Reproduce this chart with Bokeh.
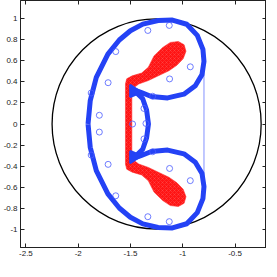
from bokeh.plotting import figure
from bokeh.models import Range1d, FixedTicker, LinearAxis
from bokeh.embed import file_html
from bokeh.resources import INLINE

# ---- data ----
circle_cx = [-1.25]
circle_cy = [0.0]
circle_d = [2.0]

blue_x = [-1.906, -1.885, -1.827, -1.716, -1.607, -1.501, -1.382, -1.236, -1.099, -0.962,
          -0.861, -0.807, -0.797, -0.816, -0.880, -0.989, -1.145, -1.300, -1.401, -1.474,
          -1.383, -1.346, -1.328, -1.346, -1.383, -1.474, -1.401, -1.300, -1.145, -0.989,
          -0.880, -0.816, -0.797, -0.807, -0.861, -0.962, -1.099, -1.236, -1.382, -1.501,
          -1.607, -1.716, -1.827, -1.885, -1.906]
blue_y = [0.0, 0.222, 0.444, 0.665, 0.799, 0.887, 0.950, 0.985, 0.989, 0.949,
          0.843, 0.710, 0.595, 0.470, 0.364, 0.284, 0.248, 0.262, 0.302, 0.328,
          0.240, 0.133, 0.0, -0.133, -0.240, -0.328, -0.302, -0.262, -0.248, -0.284,
          -0.364, -0.470, -0.595, -0.710, -0.843, -0.949, -0.989, -0.985, -0.950, -0.887,
          -0.799, -0.665, -0.444, -0.222, 0.0]

blob_xs = [[-1.503, -1.503, -1.394], [-1.503, -1.503, -1.394]]
blob_ys = [[0.373, 0.257, 0.302], [-0.373, -0.257, -0.302]]

sparse_x = [-1.641, -1.714, -1.798, -1.798, -1.714, -1.641, -1.334, -1.129, -0.928, -1.126,
            -1.371, -1.352, -1.480, -1.371, -1.126, -0.928, -1.334, -1.129, -1.876, -1.876,
            -1.288, -1.288]
sparse_y = [0.689, 0.393, 0.083, -0.077, -0.384, -0.683, 0.890, 0.938, 0.544, 0.429,
            0.148, 0.005, 0.0, -0.142, -0.423, -0.539, -0.882, -0.929, 0.295, -0.295,
            0.264, -0.264]

red_x = [-1.548, -1.536, -1.484, -1.393, -1.329, -1.275, -1.192, -1.119, -1.042, -0.987,
         -0.969, -0.996, -1.056, -1.133, -1.238, -1.329, -1.421, -1.475, -1.487,
         -1.487, -1.475, -1.421, -1.329, -1.238, -1.133, -1.056, -0.996, -0.969, -0.987,
         -1.042, -1.119, -1.192, -1.275, -1.329, -1.393, -1.484, -1.536, -1.548]
red_y = [0.382, 0.430, 0.458, 0.485, 0.541, 0.648, 0.728, 0.776, 0.785, 0.754,
         0.692, 0.621, 0.559, 0.506, 0.457, 0.413, 0.381, 0.340, 0.284,
         -0.284, -0.340, -0.381, -0.413, -0.457, -0.506, -0.559, -0.621, -0.692, -0.754,
         -0.785, -0.776, -0.728, -0.648, -0.541, -0.485, -0.458, -0.430, -0.382]

vline_x = [-0.797, -0.797]
vline_y = [0.595, -0.595]

x_ticks = [-2.5, -2, -1.5, -1, -0.5]
x_labels = ["-2.5", "-2", "-1.5", "-1", "-0.5"]
y_ticks = [-1, -0.8, -0.6, -0.4, -0.2, 0, 0.2, 0.4, 0.6, 0.8, 1]
y_labels = ["-1", "-0.8", "-0.6", "-0.4", "-0.2", "0", "0.2", "0.4", "0.6", "0.8", "1"]

# ---- figure ----
p = figure(frame_width=246, frame_height=247,
           x_range=Range1d(-2.552, -0.199), y_range=Range1d(-1.175, 1.175),
           output_backend="svg", toolbar_location=None,
           min_border_left=0, min_border_right=0, min_border_top=0, min_border_bottom=0)
p.grid.visible = False
p.outline_line_color = "#222222"
p.background_fill_color = "white"

FONT = "Liberation Sans"
for ax in (p.xaxis[0], p.yaxis[0]):
    ax.major_tick_in = 4
    ax.major_tick_out = 0
    ax.minor_tick_line_color = None
    ax.major_label_text_font = FONT
    ax.major_label_text_font_size = "8px"
    ax.major_label_text_color = "#222222"
    ax.axis_line_color = "#222222"
    ax.major_tick_line_color = "#222222"
    ax.major_label_standoff = 3

p.xaxis[0].ticker = FixedTicker(ticks=x_ticks)
p.xaxis[0].major_label_overrides = {t: l for t, l in zip(x_ticks, x_labels)}
p.yaxis[0].ticker = FixedTicker(ticks=y_ticks)
p.yaxis[0].major_label_overrides = {t: l for t, l in zip(y_ticks, y_labels)}

for loc, tks in (("above", x_ticks), ("right", y_ticks)):
    ax = LinearAxis(ticker=FixedTicker(ticks=tks), major_tick_in=4, major_tick_out=0,
                    minor_tick_line_color=None, major_label_text_font_size="1px",
                    major_label_text_color=None, major_label_standoff=0,
                    axis_line_color="#222222", major_tick_line_color="#222222")
    p.add_layout(ax, loc)

# black circle
p.ellipse(x=circle_cx, y=circle_cy, width=circle_d, height=circle_d,
          fill_color=None, line_color="black", line_width=1.3)

# red cloud of x markers
p.patch(red_x, red_y, fill_color="#ff0000", fill_alpha=0.92, line_color="#ff2a2a", line_width=0.8,
        line_alpha=0.7, hatch_pattern="x", hatch_color="white", hatch_alpha=0.18, hatch_scale=4,
        hatch_weight=0.6)

# thin vertical line
p.line(vline_x, vline_y, line_color="#4f62ff", line_width=0.7)

# blue thick curve
p.line(blue_x, blue_y, line_color="#2442f5", line_width=5, line_join="round")
p.patches(blob_xs, blob_ys, fill_color="#2442f5", line_color="#2442f5", line_width=2)

# sparse blue circles
p.scatter(sparse_x, sparse_y, marker="circle", size=6, fill_color=None,
          line_color="#4a5cff", line_width=0.8)

open("out.html", "w").write(file_html(p, INLINE))
